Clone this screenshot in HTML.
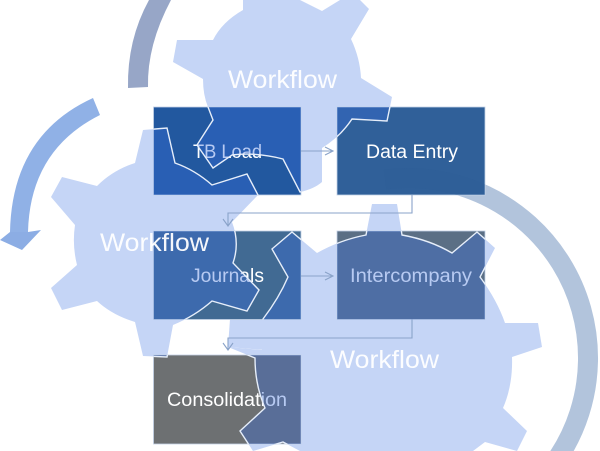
<!DOCTYPE html>
<html>
<head>
<meta charset="utf-8">
<style>
html,body{margin:0;padding:0;background:#fff;width:600px;height:451px;overflow:hidden}
svg{display:block}
text{font-family:"Liberation Sans",sans-serif;fill:#fff}
</style>
</head>
<body>
<svg width="600" height="451" viewBox="0 0 600 451" xmlns="http://www.w3.org/2000/svg">
<defs>
<path id="g1" d="M243 0 V10 Q222 22 213 40 L177 40 L173 62 L203 79 Q203 95 208 107 L213 120 L197 145 L213 168 L232 155 Q256 152 283 159 L300 192 Q314 189 322 182 V148 Q340 137 352 119 L387 121 L392 97 L361 78 Q360 58 351 39 L369 9 L360 0 L340 0 L322 11 L300 0 Z"/>
<path id="g2" d="M143 130 L167 128 L175 163 Q195 170 212 185 L247 174 L258 195 L232 222 Q240 243 233 263 L259 290 L247 311 L212 301 Q195 316 173 325 L167 357 L143 356 L135 322 Q112 315 97 301 L62 310 L51 288 L77 265 Q72 245 75 225 L51 197 L62 177 L97 186 Q113 170 135 163 Z"/>
<path id="g3" d="M292 232 L272 249 L288 277 Q279 298 263 319 L262 350 L228 347 L255 358 Q255 385 265 408 L240 431 L253 451 L283 442 L300 451 H473 L485 442 L517 451 L527 431 L503 408 Q513 385 512 357 L542 347 L538 323 L505 323 Q497 300 480 277 L495 248 L477 232 L452 253 Q430 240 402 235 L397 204 L372 204 L366 235 Q340 240 317 253 Z"/>
<clipPath id="boxes">
<rect x="153.5" y="107" width="147.5" height="88"/>
<rect x="337" y="107" width="148" height="88"/>
<rect x="153.5" y="231" width="147.5" height="88.5"/>
<rect x="337" y="231" width="148" height="88.5"/>
<rect x="153.5" y="355" width="147.5" height="89"/>
</clipPath>
<clipPath id="de"><rect x="337" y="107" width="148" height="88"/></clipPath>
</defs>

<!-- arcs -->
<path d="M149 0 Q127 40 128 88 L148 87 Q147 45 171 0 Z" fill="#97a6c7"/>
<path d="M385 179.5 A180 180 0 0 1 557.7 458" fill="none" stroke="#b2c4dc" stroke-width="20"/>
<path d="M93 98 Q12 135 10 232 L28 232 Q30 150 100 115 Z" fill="#90b1e6"/>
<polygon points="0,240 22,250 41,230 28,232 10,232" fill="#8cade4"/>

<!-- gears -->
<g fill="#c5d5f6">
<use href="#g1"/><use href="#g2"/><use href="#g3"/>
<polygon points="230,319 265,319 265,350 228,347"/>
</g>

<!-- boxes -->
<g stroke="#c4d2e6" stroke-width="0.8">
<rect x="153.5" y="107" width="147.5" height="88" fill="#22589f"/>
<rect x="337" y="107" width="148" height="88" fill="#306099"/>
<rect x="153.5" y="231" width="147.5" height="88.5" fill="#416a93"/>
<rect x="337" y="231" width="148" height="88.5" fill="#5b6f85"/>
<rect x="153.5" y="355" width="147.5" height="89" fill="#6d7072"/>
</g>

<!-- box labels under the overlay -->
<g font-size="19">
<text x="193" y="158" textLength="69" lengthAdjust="spacingAndGlyphs">TB Load</text>
<text x="366" y="158" textLength="92" lengthAdjust="spacingAndGlyphs">Data Entry</text>
<text x="191" y="282" textLength="73" lengthAdjust="spacingAndGlyphs">Journals</text>
<text x="350" y="282" textLength="122" lengthAdjust="spacingAndGlyphs">Intercompany</text>
<text x="167" y="406" textLength="120" lengthAdjust="spacingAndGlyphs">Consolidation</text>
</g>

<!-- translucent gear overlay on boxes -->
<g clip-path="url(#boxes)">
<g fill="rgba(56,108,220,.36)">
<use href="#g1"/><use href="#g2"/><use href="#g3"/>
</g>
<g fill="none" stroke="#e6eefa" stroke-width="1.4">
<use href="#g1"/><use href="#g2"/><use href="#g3"/>
</g>
</g>

<!-- faint arc visible through Data Entry -->
<g clip-path="url(#de)">
<path d="M385 179.5 A180 180 0 0 1 557.7 458" fill="none" stroke="#2a5a96" stroke-opacity=".25" stroke-width="20"/>
</g>

<!-- connectors -->
<g fill="none" stroke="#8aa3c9" stroke-width="1.1">
<path d="M301 151 H333 M325 147 L333 151 L325 155"/>
<path d="M301 276 H333 M325 272 L333 276 L325 280"/>
<path d="M412 195 V213 H228 V226 M223 219 L228 226 L233 219"/>
<path d="M412 319.5 V338 H228 V350 M223 343 L228 350 L233 343"/>
</g>

<!-- gear labels -->
<g font-size="25" fill-opacity=".95">
<text x="228" y="88" textLength="109" lengthAdjust="spacingAndGlyphs">Workflow</text>
<text x="100" y="251" textLength="109" lengthAdjust="spacingAndGlyphs">Workflow</text>
<text x="330" y="368" textLength="109" lengthAdjust="spacingAndGlyphs">Workflow</text>
</g>
</svg>
</body>
</html>
